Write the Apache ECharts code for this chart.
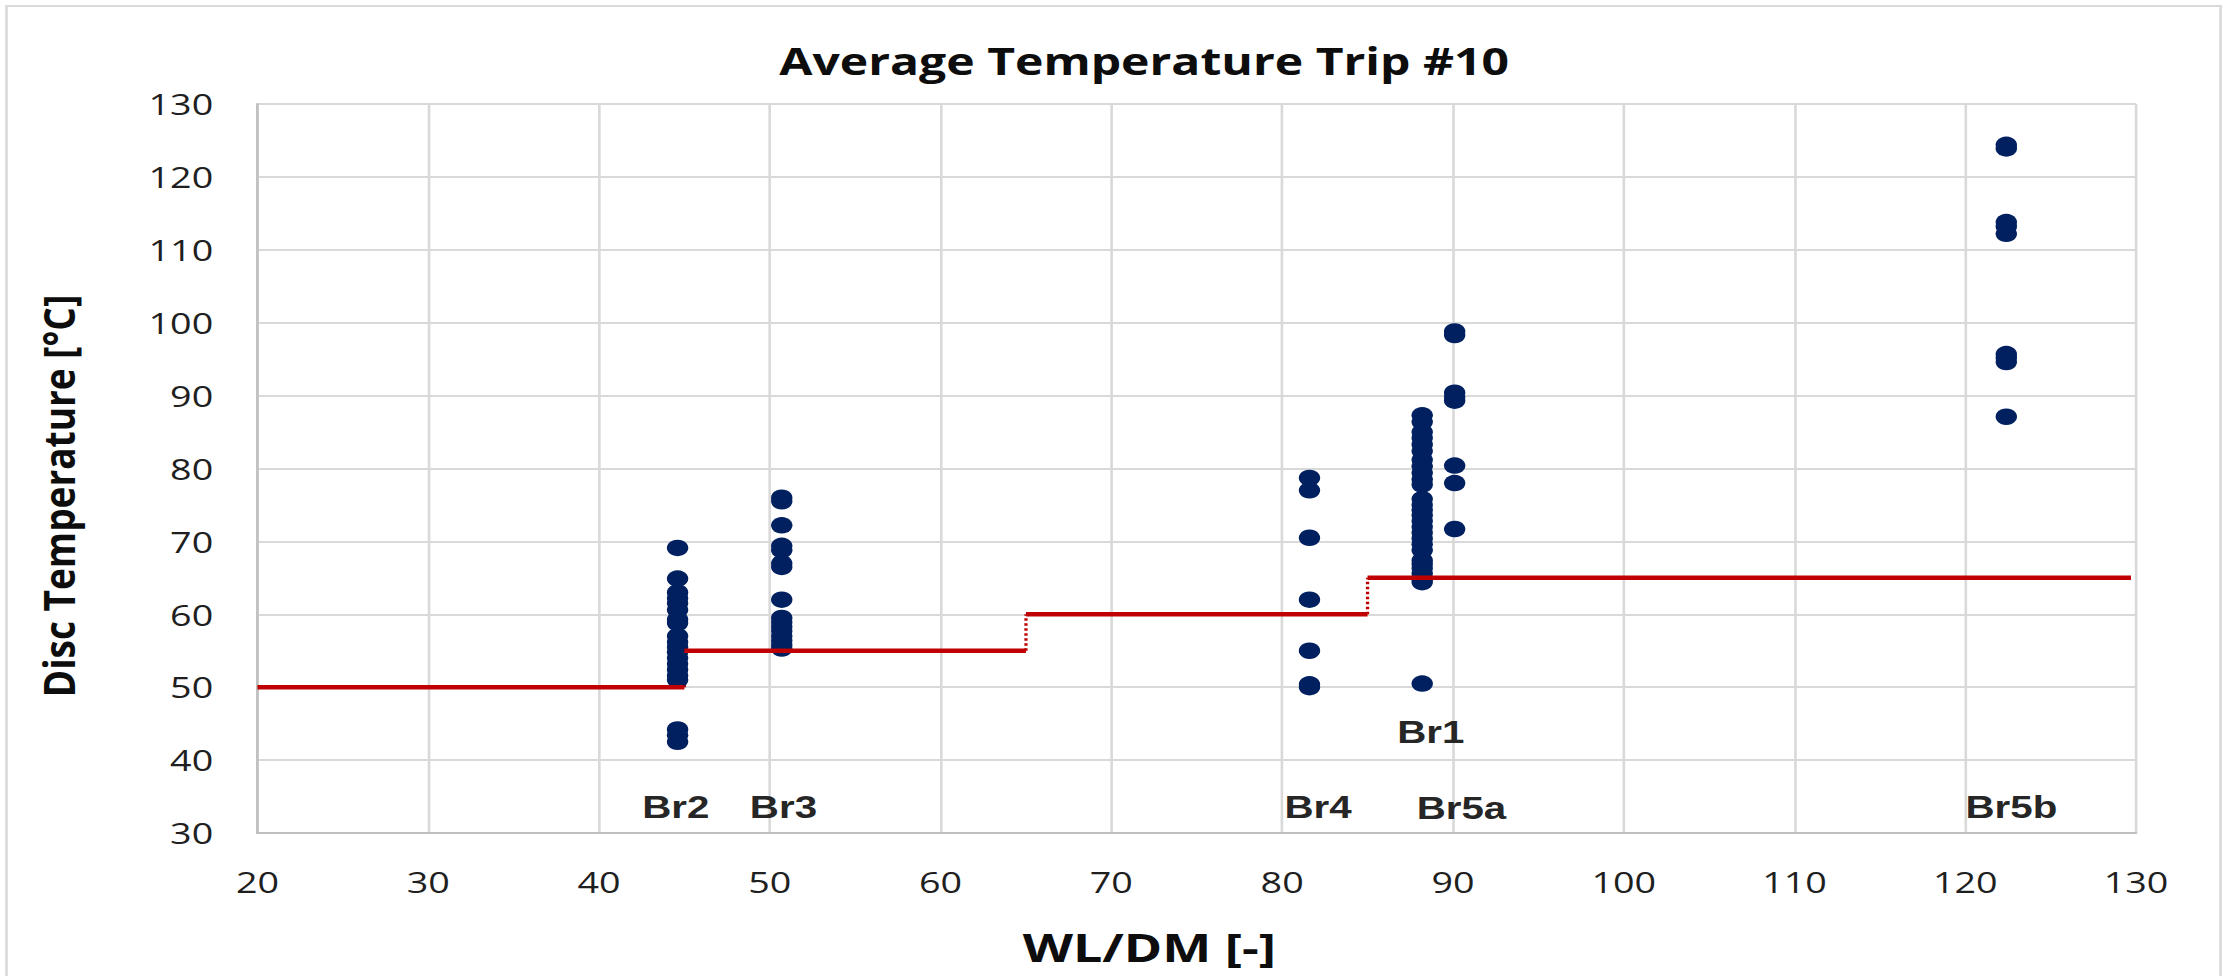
<!DOCTYPE html>
<html>
<head>
<meta charset="utf-8">
<script src="https://cdn.jsdelivr.net/npm/echarts@6/dist/echarts.min.js"></script>
<style>
  html, body { margin: 0; padding: 0; background: #ffffff; overflow: hidden; }
  #stage { width: 2231px; height: 976px; overflow: hidden; }
  /* the chart is laid out narrower and widened horizontally */
  #chart { width: 1716px; height: 976px; transform: scaleX(1.30012); transform-origin: 0 0; }
</style>
</head>
<body>
<div id="stage"><div id="chart"></div></div>
<script>
// Axis ranges and tick spacing
const xMin = 20, xMax = 130, xStep = 10;
const yMin = 30, yMax = 130, yStep = 10;

// WL/DM position of each brake column
const colNames = ['Br2', 'Br3', 'Br4', 'Br1', 'Br5a', 'Br5b'];
const colX = [44.6, 50.7, 81.6, 88.2, 90.1, 122.4];

// Average disc temperatures per brake (°C)
const tempBr2 = [69.1, 64.9, 63.0, 62.2, 61.5, 60.6, 59.3, 58.8, 57.0, 56.2, 55.5, 54.8, 54.0, 53.2, 52.4, 51.6, 51.0, 44.2, 43.4, 42.5];
const tempBr3 = [76.0, 75.5, 72.2, 69.4, 68.8, 67.0, 66.5, 62.0, 59.5, 58.9, 58.3, 57.7, 57.0, 56.4, 55.8, 55.3];
const tempBr4 = [78.7, 77.0, 70.5, 62.0, 55.0, 50.4, 50.0];
const tempBr1 = [87.3, 86.4, 85.0, 84.2, 83.3, 82.4, 81.2, 80.3, 79.4, 78.5, 77.8, 75.8, 75.0, 74.3, 73.6, 72.8, 72.0, 71.2, 70.4, 69.6, 68.8, 67.4, 66.9, 66.3, 65.6, 64.8, 64.4, 50.5];
const tempBr5a = [98.8, 98.3, 90.4, 89.8, 89.3, 80.4, 78.0, 71.7];
const tempBr5b = [124.4, 123.9, 113.8, 113.2, 112.2, 95.7, 95.2, 94.6, 87.1];
const colTemps = [tempBr2, tempBr3, tempBr4, tempBr1, tempBr5a, tempBr5b];

// Temperature limit steps: edges along WL/DM and the level between them
const stepEdges = [20, 45, 65, 85, 129.7];
const stepLevels = [50, 55, 60, 65];

// Brake name labels (data coordinates)
const labelText = ['Br2', 'Br3', 'Br4', 'Br5a', 'Br5b', 'Br1'];
const labelX = [44.5, 50.8, 82.1, 90.5, 122.7, 88.7];
const labelY = [33.6, 33.6, 33.6, 33.4, 33.6, 43.8];

const RED = '#c00000';
const NAVY = '#002060';
const GRID = '#d9d9d9';

const pointData = [];
colTemps.forEach((temps, i) => {
  temps.forEach(t => pointData.push({ name: colNames[i], value: [colX[i], t] }));
});

const series = [];

// dotted risers between limit levels (kept under the points)
for (let i = 1; i < stepLevels.length; i++) {
  series.push({
    type: 'line',
    z: 1,
    symbol: 'none',
    silent: true,
    lineStyle: { color: RED, width: 2.5, type: 'dotted' },
    data: [[stepEdges[i], stepLevels[i - 1]], [stepEdges[i], stepLevels[i]]]
  });
}

series.push({
  name: 'Disc temperature',
  type: 'scatter',
  z: 2,
  symbol: 'circle',
  symbolSize: 16.5,
  itemStyle: { color: NAVY, opacity: 1 },
  data: pointData
});

// horizontal limit levels
stepLevels.forEach((lvl, i) => {
  series.push({
    type: 'line',
    z: 3,
    symbol: 'none',
    silent: true,
    lineStyle: { color: RED, width: 4.5 },
    data: [[stepEdges[i], lvl], [stepEdges[i + 1], lvl]]
  });
});

series.push({
  type: 'scatter',
  z: 4,
  symbolSize: 0,
  silent: true,
  itemStyle: { opacity: 1 },
  label: {
    show: true,
    position: 'inside',
    formatter: '{b}',
    color: '#262626',
    opacity: 1,
    textBorderWidth: 0,
    fontFamily: '"Liberation Sans", Arial, sans-serif',
    fontWeight: 'bold',
    fontSize: 31
  },
  data: labelText.map((t, i) => ({ name: t, value: [labelX[i], labelY[i]] }))
});

const chart = echarts.init(document.getElementById('chart'), null, { renderer: 'svg' });
chart.setOption({
  animation: false,
  backgroundColor: '#ffffff',
  title: {
    text: 'Average Temperature Trip #10',
    left: 875,
    textAlign: 'center',
    top: 37,
    textStyle: {
      fontFamily: '"Open Sans", sans-serif',
      fontWeight: 'bold',
      fontSize: 37,
      color: '#0d0d0d'
    }
  },
  grid: { left: 198, right: 73, top: 104, bottom: 143, containLabel: false },
  xAxis: {
    type: 'value',
    min: xMin, max: xMax, interval: xStep,
    axisLine: { show: true, lineStyle: { color: '#bfbfbf', width: 2 } },
    axisTick: { show: false },
    splitLine: { show: true, lineStyle: { color: GRID, width: 2 } },
    axisLabel: { margin: 34, fontFamily: '"Open Sans", sans-serif', fontSize: 29, color: '#1f1f1f' }
  },
  yAxis: {
    type: 'value',
    min: yMin, max: yMax, interval: yStep,
    axisLine: { show: true, lineStyle: { color: '#bfbfbf', width: 2 } },
    axisTick: { show: false },
    splitLine: { show: true, lineStyle: { color: GRID, width: 2 } },
    axisLabel: { margin: 34, fontFamily: '"Open Sans", sans-serif', fontSize: 29, color: '#1f1f1f' }
  },
  graphic: [
    {
      type: 'rect',
      z: -10,
      silent: true,
      shape: { x: 5, y: 6, width: 1703, height: 990 },
      style: { fill: 'none', stroke: '#d9d9d9', lineWidth: 2 }
    },
    {
      type: 'text',
      x: 45, y: 496,
      rotation: Math.PI / 2,
      scaleY: 0.9,
      silent: true,
      style: {
        text: 'Disc Temperature [°C]',
        font: 'bold 37px "Open Sans", sans-serif',
        fill: '#0d0d0d',
        align: 'center',
        verticalAlign: 'middle'
      }
    },
    {
      type: 'text',
      x: 884, y: 946,
      silent: true,
      style: {
        text: 'WL/DM [-]',
        font: 'bold 40px "Open Sans", sans-serif',
        fill: '#0d0d0d',
        align: 'center',
        verticalAlign: 'middle'
      }
    }
  ],
  series: series
});
</script>
</body>
</html>
